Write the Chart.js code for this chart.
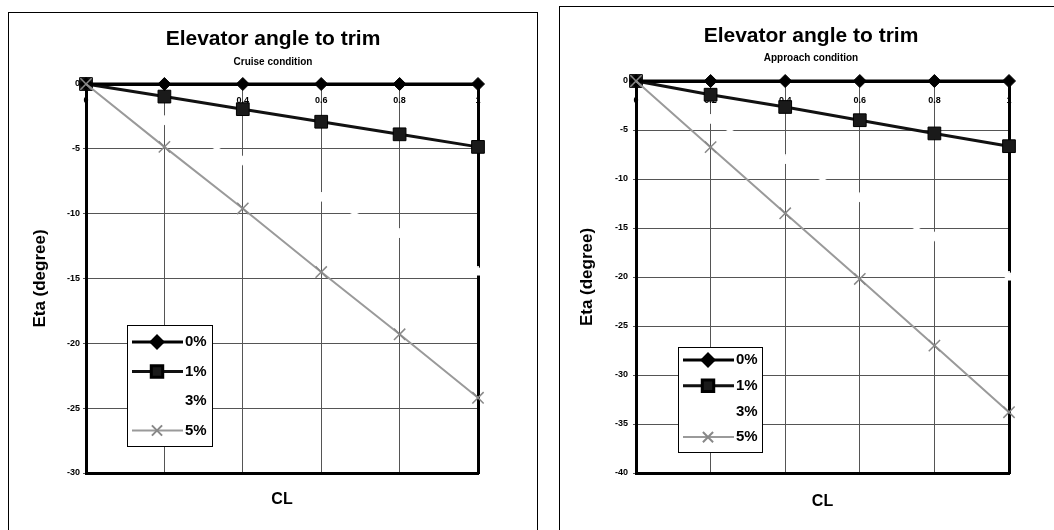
<!DOCTYPE html>
<html>
<head>
<meta charset="utf-8">
<script src="https://cdn.jsdelivr.net/npm/chart.js@4.4.1/dist/chart.umd.min.js"></script>
<style>
  body { margin: 0; background: #fff; width: 1054px; height: 530px; overflow: hidden; position: relative; }
  .box { position: absolute; border: 1px solid #000; border-bottom: none; background: #fff; }
  #boxL { left: 8px; top: 12px; width: 528px; height: 517px; }
  #boxR { left: 559px; top: 6px; width: 502px; height: 523px; }
  canvas { display: block; }
</style>
</head>
<body>
<div class="box" id="boxL"><canvas id="cruiseChart" width="528" height="517"></canvas></div>
<div class="box" id="boxR"><canvas id="approachChart" width="502" height="523"></canvas></div>
<script>
// CL values on the x axis
const cl = [0, 0.2, 0.4, 0.6, 0.8, 1.0];
const seriesNames = ['0%', '1%', '3%', '5%'];

// cruise condition, eta in degrees
const cruise0 = [0, 0, 0, 0, 0, 0];
const cruise1 = [0, -0.97, -1.94, -2.91, -3.88, -4.85];
const cruise3 = [0, -2.9, -6.0, -8.8, -11.6, -14.5];
const cruise5 = [0, -4.85, -9.6, -14.5, -19.3, -24.2];

// approach condition, eta in degrees
const approach0 = [0, 0, 0, 0, 0, 0];
const approach1 = [0, -1.4, -2.65, -4.0, -5.35, -6.65];
const approach3 = [0, -4.0, -8.1, -12.0, -16.0, -20.0];
const approach5 = [0, -6.75, -13.5, -20.2, -27.0, -33.8];

const FONT = "Arial, 'Liberation Sans', sans-serif";
Chart.defaults.font.family = FONT;
Chart.defaults.color = '#000';

// legend drawn inside the plot area, like the original spreadsheet chart
const insideLegend = {
    id: 'insideLegend',
    afterDatasetsDraw(chart, args, o) {
        const ctx = chart.ctx;
        const a = chart.chartArea;
        const x0 = Math.round(a.left + o.dx), y0 = Math.round(a.top + o.dy);
        ctx.save();
        ctx.fillStyle = '#fff';
        ctx.fillRect(x0, y0, o.w, o.h);
        ctx.strokeStyle = '#000';
        ctx.lineWidth = 1;
        ctx.strokeRect(x0 + 0.5, y0 + 0.5, o.w, o.h);
        chart.data.datasets.forEach((ds, i) => {
            const y = y0 + o.first + i * o.row;
            ctx.strokeStyle = ds.borderColor;
            ctx.lineWidth = ds.borderWidth;
            ctx.beginPath();
            ctx.moveTo(x0 + 5, y);
            ctx.lineTo(x0 + 56, y);
            ctx.stroke();
            ctx.fillStyle = ds.pointBackgroundColor;
            ctx.strokeStyle = ds.pointBorderColor;
            Chart.helpers.drawPoint(ctx, {
                pointStyle: ds.pointStyle, radius: ds.pointRadius * 0.9,
                borderWidth: ds.pointBorderWidth, rotation: 0
            }, x0 + 30, y);
            ctx.fillStyle = '#000';
            ctx.font = 'bold 15px ' + FONT;
            ctx.textBaseline = 'middle';
            ctx.textAlign = 'left';
            ctx.fillText(ds.label, x0 + 58, y);
        });
        ctx.restore();
    }
};

function makeDatasets(s0, s1, s3, s5) {
    const pts = arr => arr.map((v, i) => ({ x: cl[i], y: v }));
    return [
        { label: seriesNames[0], data: pts(s0), borderColor: '#000', borderWidth: 3, clip: false, order: 1,
          pointStyle: 'rectRot', pointRadius: 6.5, pointBackgroundColor: '#000', pointBorderColor: '#000', pointBorderWidth: 1 },
        { label: seriesNames[1], data: pts(s1), borderColor: '#111', borderWidth: 3, clip: false, order: 2,
          pointStyle: 'rect', pointRadius: 9, pointBackgroundColor: '#1a1a1a', pointBorderColor: '#000', pointBorderWidth: 1 },
        { label: seriesNames[2], data: pts(s3), borderColor: '#fff', borderWidth: 3, clip: false, order: 3,
          pointStyle: 'triangle', pointRadius: 6, pointBackgroundColor: '#fff', pointBorderColor: '#fff', pointBorderWidth: 1 },
        // 5% sits on top, its cross shows at the origin in the original
        { label: seriesNames[3], data: pts(s5), borderColor: '#9a9a9a', borderWidth: 2, clip: false, order: 0,
          pointStyle: 'crossRot', pointRadius: 8, pointBackgroundColor: '#888', pointBorderColor: '#888', pointBorderWidth: 1.5 }
    ];
}

function makeChart(id, sub, datasets, c) {
    return new Chart(document.getElementById(id), {
        type: 'line',
        data: { datasets: datasets },
        plugins: [insideLegend],
        options: {
            responsive: false,
            animation: false,
            layout: { padding: 0 },
            plugins: {
                legend: { display: false },
                tooltip: { enabled: false },
                title: {
                    display: true, text: 'Elevator angle to trim', color: '#000',
                    font: { size: 21, weight: 'bold' }, padding: { top: c.titleTop, bottom: 0 }
                },
                subtitle: {
                    display: true, text: sub, color: '#000',
                    font: { size: 10, weight: 'bold' }, padding: { top: c.subTop, bottom: c.subBottom }
                },
                insideLegend: c.legend
            },
            scales: {
                x: {
                    type: 'linear', position: { y: 0 }, min: 0, max: 1,
                    afterFit: s => { s.height = 0; },
                    ticks: {
                        stepSize: 0.2, font: { size: 9, weight: 'bold' }, padding: c.xTickPad, maxRotation: 0,
                        callback: v => String(+v.toFixed(1))
                    },
                    grid: { color: '#555', lineWidth: 1, tickLength: 4 },
                    border: { color: '#000', width: 3 }
                },
                y: {
                    position: 'left', min: c.yMin, max: 0,
                    afterFit: s => { s.width = c.yWidth; },
                    ticks: { stepSize: 5, font: { size: 9, weight: 'bold' }, padding: c.yTickPad },
                    grid: { color: '#555', lineWidth: 1, tickLength: 3 },
                    border: { color: '#000', width: 3 },
                    title: {
                        display: true, text: 'Eta (degree)', color: '#000',
                        font: { size: 17, weight: 'bold' }, padding: { top: c.yTitlePad, bottom: 0 }
                    }
                },
                x2: {
                    type: 'linear', position: 'bottom',
                    afterFit: s => { s.height = c.bottomH; },
                    ticks: { display: false },
                    grid: { display: false },
                    border: { color: '#000', width: 3 },
                    title: {
                        display: true, text: 'CL', color: '#000',
                        font: { size: 16, weight: 'bold' }, padding: { top: 0, bottom: c.clPad }
                    }
                },
                y2: {
                    type: 'linear', position: 'right',
                    afterFit: s => { s.width = c.rightW; },
                    ticks: { display: false },
                    grid: { display: false },
                    border: { color: '#000', width: 3 }
                }
            }
        }
    });
}

makeChart('cruiseChart', 'Cruise condition', makeDatasets(cruise0, cruise1, cruise3, cruise5), {
    titleTop: 14, subTop: 4, subBottom: 15.8,
    yMin: -30, yWidth: 77, yTickPad: 3, yTitlePad: 21, xTickPad: 7,
    bottomH: 57, clPad: 20.4, rightW: 59,
    legend: { dx: 41, dy: 241, w: 85, h: 121, first: 17, row: 29.5 }
});

makeChart('approachChart', 'Approach condition', makeDatasets(approach0, approach1, approach3, approach5), {
    titleTop: 16.4, subTop: 3.4, subBottom: 17,
    yMin: -40, yWidth: 76, yTickPad: 5, yTitlePad: 17, xTickPad: 10,
    bottomH: 57, clPad: 18.4, rightW: 53,
    legend: { dx: 42, dy: 266, w: 84, h: 105, first: 13, row: 25.7 }
});
</script>
</body>
</html>
